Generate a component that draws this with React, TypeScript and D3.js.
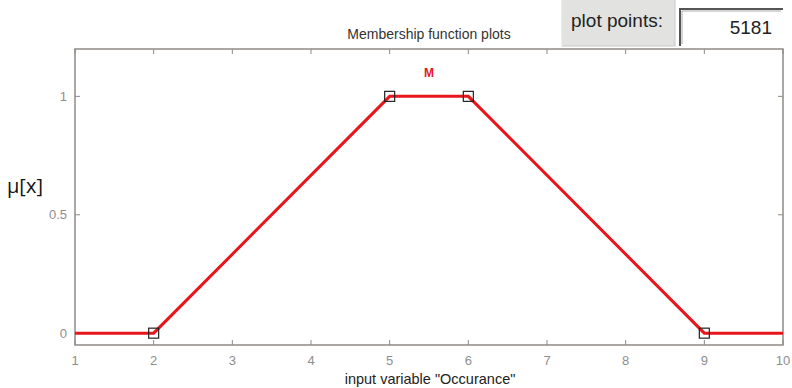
import React from "react";
import * as d3 from "d3";

// Trapezoidal membership function "M" for input variable "Occurance"
const mfName = "M";
const mfParams = [2, 5, 6, 9];
const xDomain = [1, 10];
const xTicks = [1, 2, 3, 4, 5, 6, 7, 8, 9, 10];
const yTicks = [0, 0.5, 1];
const plotPoints = "5181";

const W = 792;
const H = 388;
const left = 75;
const right = 783;
const top = 49;
const bottom = 345;

export default function App() {
  const x = d3.scaleLinear().domain(xDomain).range([left, right]);
  const y = d3.scaleLinear().domain([-0.05, 1.2]).range([bottom, top]);

  const [a, b, c, dd] = mfParams;
  const linePts: [number, number][] = [
    [xDomain[0], 0],
    [a, 0],
    [b, 1],
    [c, 1],
    [dd, 0],
    [xDomain[1], 0],
  ];
  const markers: [number, number][] = [
    [a, 0],
    [b, 1],
    [c, 1],
    [dd, 0],
  ];
  const line = d3
    .line<[number, number]>()
    .x((p) => x(p[0]))
    .y((p) => y(p[1]));

  const axisColor = "#8f8a86";
  const labelColor = "#8e8e8e";
  const font = "'Liberation Sans', Arial, sans-serif";
  const tickLen = 5;

  return (
    <svg
      width={W}
      height={H}
      style={{ position: "absolute", left: 0, top: 0, background: "#fff" }}
      fontFamily={font}
    >
      <rect x={0} y={0} width={W} height={H} fill="#ffffff" />

      {/* title */}
      <text x={429} y={39} textAnchor="middle" fontSize={14} fill="#333">
        Membership function plots
      </text>

      {/* plot points control */}
      <rect x={562} y={-2} width={113} height={48} fill="#e2e2e0" stroke="#c8c8c6" />
      <line x1={562} y1={-2} x2={562} y2={46} stroke="#f6f6f6" />
      <text x={617} y={27} textAnchor="middle" fontSize={19} fill="#222">
        plot points:
      </text>
      <rect x={679} y={8} width={104} height={38} fill="#ffffff" />
      <path d="M680,46 V9 H783" fill="none" stroke="#555" strokeWidth={2} />
      <path d="M682,44 V11 H781" fill="none" stroke="#aaa" strokeWidth={1} />
      <text x={772} y={34} textAnchor="end" fontSize={19} fill="#222">
        {plotPoints}
      </text>

      {/* axes box */}
      <rect
        x={left}
        y={top}
        width={right - left}
        height={bottom - top}
        fill="#ffffff"
        stroke={axisColor}
        strokeWidth={1.5}
      />

      {/* x ticks */}
      {xTicks.map((t) => (
        <g key={"x" + t}>
          <line x1={x(t)} x2={x(t)} y1={bottom} y2={bottom - tickLen} stroke={axisColor} />
          <line x1={x(t)} x2={x(t)} y1={top} y2={top + tickLen} stroke={axisColor} />
          <text x={x(t)} y={bottom + 20} textAnchor="middle" fontSize={13} fill={labelColor}>
            {t}
          </text>
        </g>
      ))}

      {/* y ticks */}
      {yTicks.map((t) => (
        <g key={"y" + t}>
          <line x1={left} x2={left + tickLen} y1={y(t)} y2={y(t)} stroke={axisColor} />
          <line x1={right} x2={right - tickLen} y1={y(t)} y2={y(t)} stroke={axisColor} />
          <text x={left - 8} y={y(t) + 4.5} textAnchor="end" fontSize={13} fill={labelColor}>
            {t}
          </text>
        </g>
      ))}

      {/* membership function */}
      <path d={line(linePts) ?? ""} fill="none" stroke="#e8161c" strokeWidth={3} />
      {markers.map((p, i) => (
        <rect
          key={"m" + i}
          x={x(p[0]) - 5}
          y={y(p[1]) - 5}
          width={10}
          height={10}
          fill="none"
          stroke="#222"
          strokeWidth={1.2}
        />
      ))}
      <text
        x={x((b + c) / 2)}
        y={y(1) - 19}
        textAnchor="middle"
        fontSize={12}
        fontWeight="bold"
        fill="#e8161c"
      >
        {mfName}
      </text>

      {/* axis labels */}
      <text x={430} y={384} textAnchor="middle" fontSize={14.5} fill="#222">
        input variable "Occurance"
      </text>
      <text x={7} y={193} fontSize={20} fill="#111" fontFamily="'Open Sans', 'DejaVu Sans', sans-serif">
        μ[x]
      </text>
    </svg>
  );
}
